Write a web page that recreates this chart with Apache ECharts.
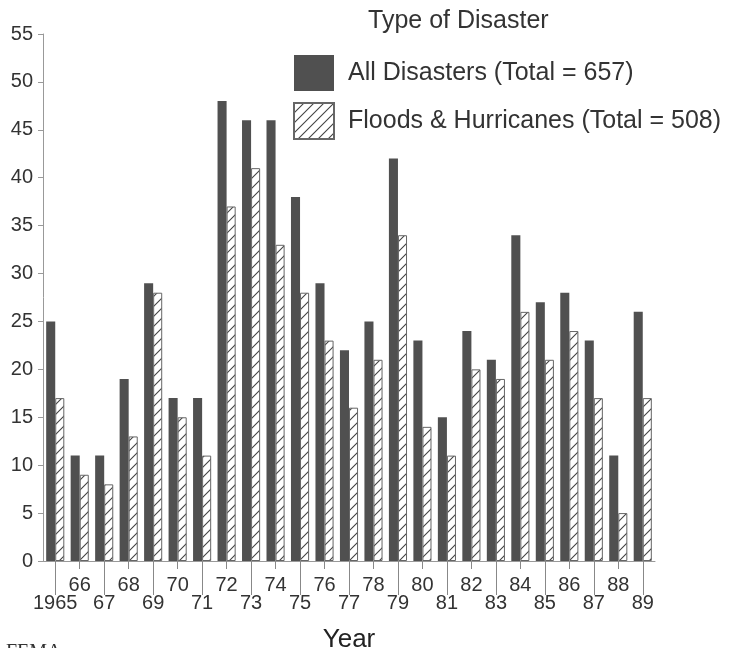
<!DOCTYPE html>
<html>
<head>
<meta charset="utf-8">
<script src="https://cdn.jsdelivr.net/npm/echarts@6/dist/echarts.min.js"></script>
<style>html,body{margin:0;padding:0;background:#fff;}#c{width:742px;height:648px;}</style>
</head>
<body>
<div id="c"></div>
<script>
const years = ['1965','66','67','68','69','70','71','72','73','74','75','76','77','78','79','80','81','82','83','84','85','86','87','88','89'];
const allDisasters = [25,11,11,19,29,17,17,48,46,46,38,29,22,25,42,23,15,24,21,34,27,28,23,11,26];
const floodsHurricanes = [17,9,8,13,28,15,11,37,41,33,28,23,16,21,34,14,11,20,19,26,21,24,17,5,17];
const yTicks = {min:0, max:55, interval:5};

function hatch(){
  const c = document.createElement('canvas');
  c.width = 10; c.height = 10;
  const g = c.getContext('2d');
  g.fillStyle = '#fff'; g.fillRect(0,0,10,10);
  g.strokeStyle = '#444'; g.lineWidth = 1.1;
  g.beginPath();
  g.moveTo(0,10); g.lineTo(10,0);
  g.moveTo(-5,5); g.lineTo(5,-5);
  g.moveTo(5,15); g.lineTo(15,5);
  g.stroke();
  return c;
}
const font = '"Liberation Sans", Arial, Helvetica, sans-serif';
const chart = echarts.init(document.getElementById('c'));
chart.setOption({
  backgroundColor:'#fff',
  animation:false,
  textStyle:{fontFamily:font},
  title:{text:'Type of Disaster', left:368, top:9, padding:0, textStyle:{fontFamily:font, fontSize:25, fontWeight:'normal', color:'#333'}},
  legend:{orient:'vertical', left:293, top:55, padding:0, itemWidth:40, itemHeight:36, itemGap:11, icon:'rect',
    textStyle:{fontFamily:font, fontSize:25, color:'#333', padding:[2,0,0,9]},
    data:['All Disasters (Total = 657)','Floods & Hurricanes (Total = 508)']},
  grid:{left:43, right:87, top:34, bottom:87, outerBoundsMode:'none', containLabel:false},
  xAxis:[
    {type:'category', data:years, position:'bottom',
     name:'Year', nameLocation:'middle', nameGap:66, nameTextStyle:{fontFamily:font, fontSize:26, color:'#222', verticalAlign:'top'},
     axisLine:{show:true, lineStyle:{color:'#999', width:1}},
     axisTick:{show:true, alignWithLabel:true, length:34, lineStyle:{color:'#888', width:1}, interval:(i)=>i%2===0},
     axisLabel:{interval:(i)=>i%2===0, margin:32, fontSize:20, color:'#333', fontFamily:font}},
    {type:'category', data:years, position:'bottom',
     axisLine:{show:false},
     axisTick:{show:true, alignWithLabel:true, length:8, lineStyle:{color:'#888', width:1}, interval:(i)=>i%2===1},
     axisLabel:{interval:(i)=>i%2===1, margin:14, fontSize:20, color:'#333', fontFamily:font}}
  ],
  yAxis:{type:'value', min:yTicks.min, max:yTicks.max, interval:yTicks.interval,
    splitLine:{show:false},
    axisLine:{show:true, lineStyle:{color:'#999'}},
    axisTick:{show:true, length:5, lineStyle:{color:'#999'}},
    axisLabel:{fontSize:20, color:'#333', margin:10, fontFamily:font}},
  series:[
    {name:'All Disasters (Total = 657)', type:'bar', xAxisIndex:0, data:allDisasters,
     barGap:'0%', barCategoryGap:'26%',
     itemStyle:{color:'#505050', borderColor:'#505050', borderWidth:0}},
    {name:'Floods & Hurricanes (Total = 508)', type:'bar', xAxisIndex:0, data:floodsHurricanes,
     itemStyle:{color:{image:hatch(), repeat:'repeat'}, borderColor:'#666', borderWidth:1}}
  ],
  graphic:[{type:'text', left:6, top:643, style:{text:'FEMA', font:'20px "Liberation Serif", serif', fill:'#333'}}]
});
</script>
</body>
</html>
